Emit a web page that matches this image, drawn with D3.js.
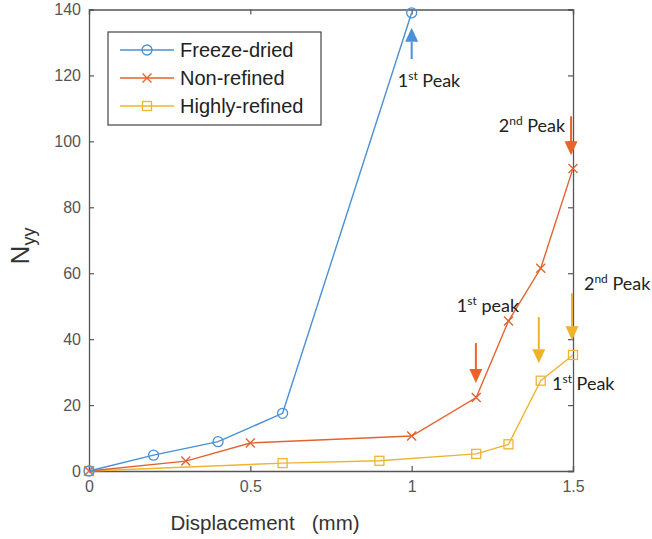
<!DOCTYPE html>
<html>
<head>
<meta charset="utf-8">
<script src="https://cdn.jsdelivr.net/npm/d3@7"></script>
<style>
  body { margin: 0; background: #fff; }
  svg { display: block; }
</style>
</head>
<body>
<div id="chart"></div>
<script>
// data (displacement in mm, Nyy)
var xFreeze = [0, 0.2, 0.4, 0.6, 1.0];
var yFreeze = [0, 4.8, 8.9, 17.5, 139];

var xNon = [0, 0.3, 0.5, 1.0, 1.2, 1.3, 1.4, 1.5];
var yNon = [0, 3.0, 8.5, 10.6, 22.3, 45.5, 61.5, 91.8];

var xHigh = [0, 0.6, 0.9, 1.2, 1.3, 1.4, 1.5];
var yHigh = [0, 2.4, 3.1, 5.2, 8.1, 27.4, 35.2];

var seriesNames = ["Freeze-dried", "Non-refined", "Highly-refined"];
var xTicks = [0, 0.5, 1, 1.5];
var yTicks = [0, 20, 40, 60, 80, 100, 120, 140];

var colors = ["#4a90d4", "#e2632f", "#efb431"];
var arrowColors = ["#4a90d9", "#e8652a", "#f0b22a"];

var width = 652, height = 539;
var margin = {top: 9.5, right: 79, bottom: 68, left: 89};

var svg = d3.select("#chart").append("svg")
    .attr("width", width)
    .attr("height", height);

var x = d3.scaleLinear().domain([0, 1.5]).range([margin.left, width - margin.right]);
var y = d3.scaleLinear().domain([0, 140]).range([height - margin.bottom, margin.top]);

var axisColor = "#555";
var tickFont = "Liberation Sans, Arial, sans-serif";

// axes, ticks pointing inward like matlab
var gx = svg.append("g")
    .attr("transform", "translate(0," + y(0) + ")")
    .call(d3.axisBottom(x).tickValues(xTicks).tickFormat(d3.format("")).tickSize(-5).tickPadding(10));
var gy = svg.append("g")
    .attr("transform", "translate(" + x(0) + ",0)")
    .call(d3.axisLeft(y).tickValues(yTicks).tickSize(-5).tickPadding(8));
var gxTop = svg.append("g")
    .attr("transform", "translate(0," + y(140) + ")")
    .call(d3.axisTop(x).tickValues(xTicks).tickSize(-5).tickFormat(""));
var gyRight = svg.append("g")
    .attr("transform", "translate(" + x(1.5) + ",0)")
    .call(d3.axisRight(y).tickValues(yTicks).tickSize(-5).tickFormat(""));

[gx, gy, gxTop, gyRight].forEach(function(g) {
  g.select(".domain").attr("stroke", axisColor).attr("stroke-width", 1.3);
  g.selectAll(".tick line").attr("stroke", axisColor).attr("stroke-width", 1.2);
  g.selectAll(".tick text")
    .attr("fill", "#555")
    .style("font-family", tickFont)
    .style("font-size", "16px");
});

// series
var series = [
  {xs: xFreeze, ys: yFreeze, marker: "circle"},
  {xs: xNon, ys: yNon, marker: "cross"},
  {xs: xHigh, ys: yHigh, marker: "square"}
];

var line = d3.line()
    .x(function(d) { return x(d[0]); })
    .y(function(d) { return y(d[1]); });

function drawMarker(g, type, color) {
  if (type == "circle") {
    g.append("circle").attr("r", 5).attr("fill", "none").attr("stroke", color).attr("stroke-width", 1.3);
  }
  if (type == "square") {
    g.append("rect").attr("x", -4.5).attr("y", -4.5).attr("width", 9).attr("height", 9)
      .attr("fill", "none").attr("stroke", color).attr("stroke-width", 1.3);
  }
  if (type == "cross") {
    g.append("path").attr("d", "M-4.5,-4.5L4.5,4.5M-4.5,4.5L4.5,-4.5")
      .attr("fill", "none").attr("stroke", color).attr("stroke-width", 1.4);
  }
}

// draw in reverse so blue sits on top, like the figure
series.slice().reverse().forEach(function(s, ri) {
  var i = series.length - 1 - ri;
  var pts = s.xs.map(function(v, k) { return [v, s.ys[k]]; });
  svg.append("path")
    .datum(pts)
    .attr("d", line)
    .attr("fill", "none")
    .attr("stroke", colors[i])
    .attr("stroke-width", 1.4);
  svg.append("g").selectAll("g.mk")
    .data(pts)
    .enter()
    .append("g")
    .attr("transform", function(d) { return "translate(" + x(d[0]) + "," + y(d[1]) + ")"; })
    .each(function() { drawMarker(d3.select(this), s.marker, colors[i]); });
});

// legend
var legend = svg.append("g").attr("transform", "translate(108,32)");
legend.append("rect")
    .attr("width", 213).attr("height", 93)
    .attr("fill", "#fff")
    .attr("stroke", "#444")
    .attr("stroke-width", 1.2);
seriesNames.forEach(function(name, i) {
  var ly = 18 + i * 28;
  legend.append("line")
    .attr("x1", 12).attr("x2", 66).attr("y1", ly).attr("y2", ly)
    .attr("stroke", colors[i]).attr("stroke-width", 1.4);
  var m = legend.append("g").attr("transform", "translate(39," + ly + ")");
  drawMarker(m, series[i].marker, colors[i]);
  legend.append("text")
    .attr("x", 72).attr("y", ly + 7)
    .style("font-family", tickFont)
    .style("font-size", "20px")
    .attr("fill", "#222")
    .text(name);
});

// axis labels
svg.append("text")
    .attr("x", 265).attr("y", 530)
    .attr("text-anchor", "middle")
    .style("font-family", tickFont)
    .style("font-size", "20.5px")
    .attr("fill", "#333")
    .text("Displacement\u00a0\u00a0\u00a0(mm)");

var yl = svg.append("text")
    .attr("transform", "translate(29,246) rotate(-90)")
    .attr("text-anchor", "middle")
    .style("font-family", tickFont)
    .style("font-size", "26px")
    .attr("fill", "#333");
yl.append("tspan").text("N");
yl.append("tspan").attr("dy", 6).style("font-size", "18px").text("yy");

// peak arrows (data units) and their notes
var arrows = [
  {x: 1.0, from: 125, to: 134.5, c: 0},
  {x: 1.494, from: 107.6, to: 95.8, c: 1},
  {x: 1.199, from: 38.8, to: 26.7, c: 1},
  {x: 1.394, from: 46.7, to: 32.7, c: 2},
  {x: 1.497, from: 53.9, to: 39.7, c: 2}
];
var notes = [
  {x: 0.957, y: 116.4, n: "1", sup: "st", word: " Peak"},
  {x: 1.27, y: 102.7, n: "2", sup: "nd", word: " Peak"},
  {x: 1.14, y: 48.2, n: "1", sup: "st", word: " peak"},
  {x: 1.534, y: 54.8, n: "2", sup: "nd", word: " Peak"},
  {x: 1.435, y: 24.5, n: "1", sup: "st", word: " Peak"}
];

arrows.forEach(function(a) {
  var x0 = x(a.x), y0 = y(a.from), y1 = y(a.to);
  var dir = y1 < y0 ? -1 : 1;
  var head = 14;
  svg.append("line")
    .attr("x1", x0).attr("x2", x0)
    .attr("y1", y0).attr("y2", y1 - dir * head)
    .attr("stroke", arrowColors[a.c]).attr("stroke-width", 2);
  svg.append("path")
    .attr("d", "M" + (x0 - 6.5) + "," + (y1 - dir * head) + "L" + (x0 + 6.5) + "," + (y1 - dir * head) + "L" + x0 + "," + y1 + "Z")
    .attr("fill", arrowColors[a.c]);
});

notes.forEach(function(n) {
  var t = svg.append("text")
    .attr("x", x(n.x)).attr("y", y(n.y))
    .style("font-family", "Lato, 'Open Sans', sans-serif")
    .style("font-size", "18px")
    .attr("fill", "#222");
  t.append("tspan").text(n.n);
  t.append("tspan").attr("dy", -7).style("font-size", "12px").text(n.sup);
  t.append("tspan").attr("dy", 7).text(n.word);
});
</script>
</body>
</html>
